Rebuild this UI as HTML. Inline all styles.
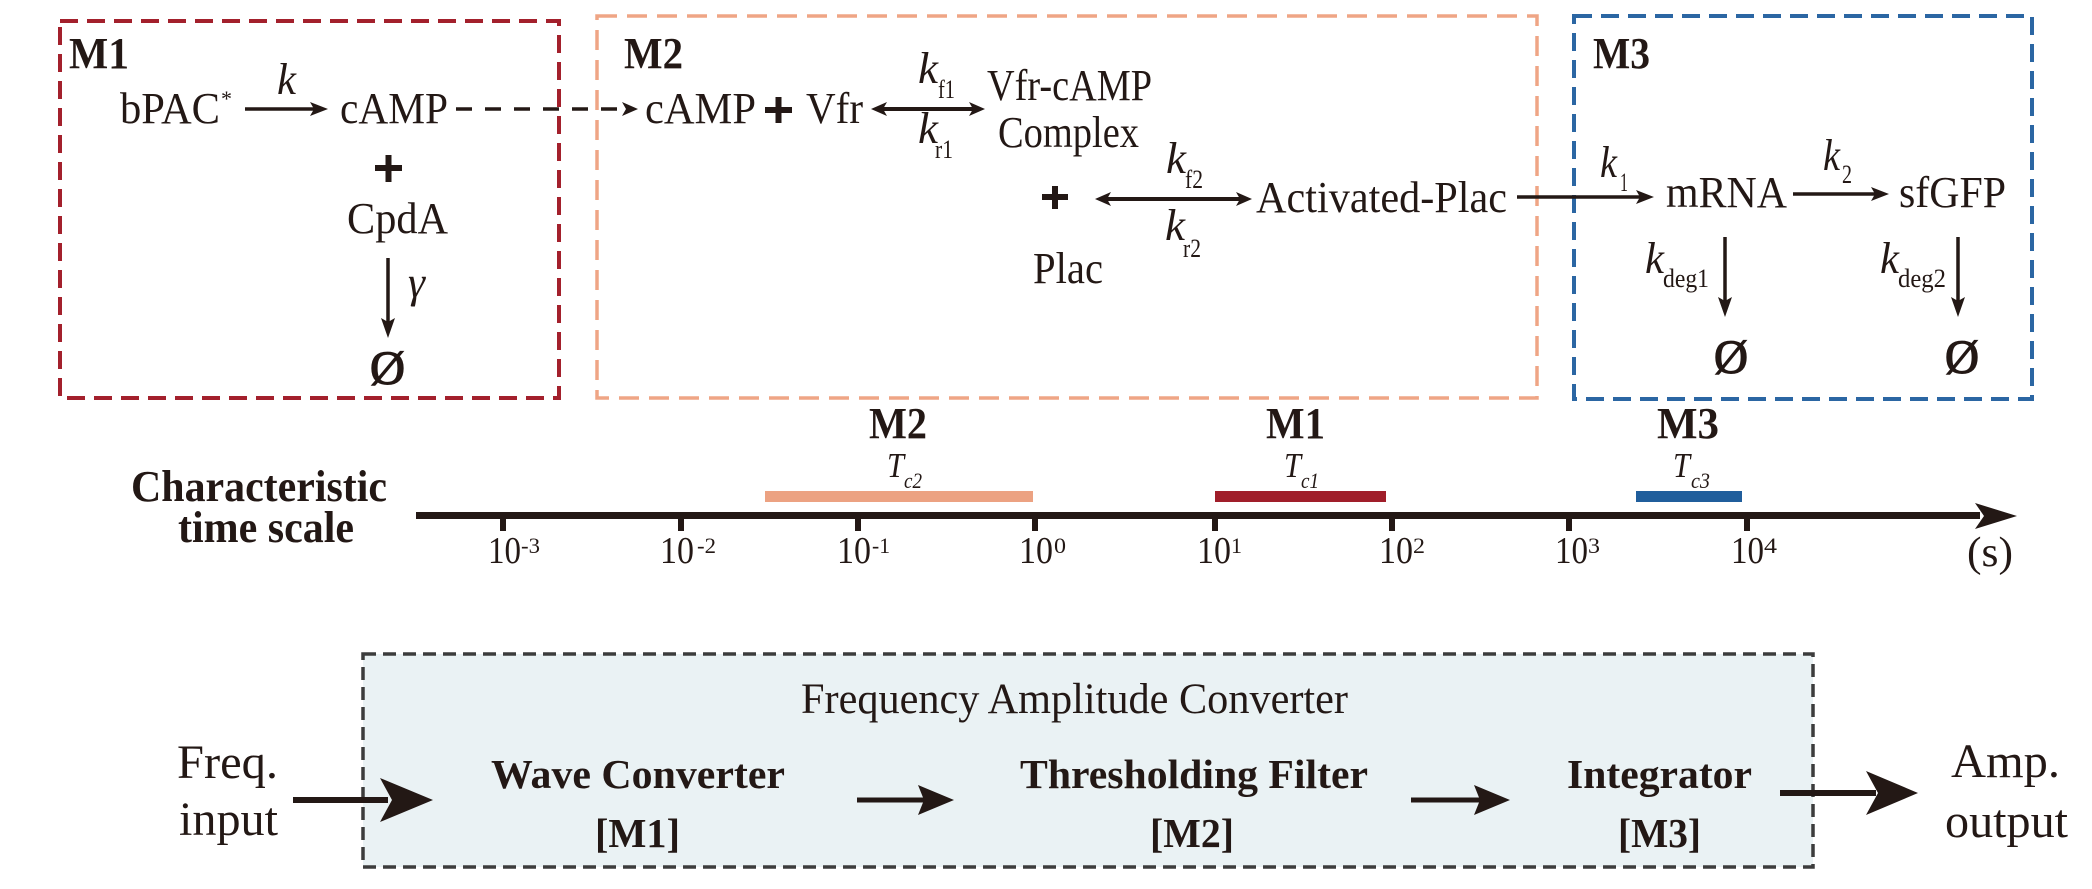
<!DOCTYPE html>
<html>
<head>
<meta charset="utf-8">
<style>
html,body{margin:0;padding:0;background:#fff;}
svg{display:block;}
text{font-family:"Liberation Serif","Times New Roman",serif;fill:#231815;}
.b{font-weight:bold;}
.i{font-style:italic;}
.o{stroke:#231815;stroke-width:1.3;}
</style>
</head>
<body>
<svg width="2092" height="889" viewBox="0 0 2092 889" xmlns="http://www.w3.org/2000/svg">
<rect x="0" y="0" width="2092" height="889" fill="#fff"/>

<!-- Module boxes -->
<rect x="60" y="21" width="499" height="377" fill="none" stroke="#A3202C" stroke-width="4" stroke-dasharray="18 9"/>
<rect x="597" y="16" width="940" height="382" fill="none" stroke="#EFA585" stroke-width="3.5" stroke-dasharray="20 10"/>
<rect x="1574" y="16" width="458" height="383" fill="none" stroke="#2B66A3" stroke-width="4" stroke-dasharray="18 9"/>

<!-- M1 contents -->
<text class="b" x="69" y="68" font-size="44" textLength="60" lengthAdjust="spacingAndGlyphs">M1</text>
<text x="120" y="123" font-size="44" textLength="100" lengthAdjust="spacingAndGlyphs">bPAC</text>
<text x="221" y="106" font-size="22">*</text>
<text class="i" x="277" y="94" font-size="44" textLength="19" lengthAdjust="spacingAndGlyphs">k</text>
<line x1="245" y1="109" x2="318" y2="109" stroke="#231815" stroke-width="3.5"/>
<polygon points="328,109 310,102 314,109 310,116" fill="#231815"/>
<text x="340" y="123" font-size="44" textLength="108" lengthAdjust="spacingAndGlyphs">cAMP</text>
<line x1="456" y1="109" x2="626" y2="109" stroke="#231815" stroke-width="3.5" stroke-dasharray="16 13"/>
<polygon points="638,109 622,102 626,109 622,116" fill="#231815"/>
<rect x="375" y="165" width="27" height="6" fill="#231815"/>
<rect x="385.5" y="155" width="6" height="27" fill="#231815"/>
<text x="347" y="233" font-size="44" textLength="101" lengthAdjust="spacingAndGlyphs">CpdA</text>
<line x1="388" y1="258" x2="388" y2="330" stroke="#231815" stroke-width="3.5"/>
<polygon points="388,338 381,318 388,322 395,318" fill="#231815"/>
<text class="i" x="408" y="297" font-size="44" textLength="17" lengthAdjust="spacingAndGlyphs">γ</text>
<text class="o" x="370" y="384" font-size="48" textLength="35" lengthAdjust="spacingAndGlyphs">Ø</text>

<!-- M2 contents -->
<text class="b" x="624" y="68" font-size="44" textLength="59" lengthAdjust="spacingAndGlyphs">M2</text>
<text x="645" y="123" font-size="44" textLength="111" lengthAdjust="spacingAndGlyphs">cAMP</text>
<rect x="765" y="107" width="27" height="6" fill="#231815"/>
<rect x="775.5" y="97" width="6" height="26" fill="#231815"/>
<text x="806" y="123" font-size="44" textLength="57" lengthAdjust="spacingAndGlyphs">Vfr</text>
<line x1="880" y1="109" x2="976" y2="109" stroke="#231815" stroke-width="4"/>
<polygon points="871,109 887,102 883,109 887,116" fill="#231815"/>
<polygon points="985,109 969,102 973,109 969,116" fill="#231815"/>
<text class="i" x="918" y="83" font-size="44" textLength="20" lengthAdjust="spacingAndGlyphs">k</text>
<text x="938" y="98" font-size="26" textLength="17" lengthAdjust="spacingAndGlyphs">f1</text>
<text class="i" x="918" y="143" font-size="44" textLength="20" lengthAdjust="spacingAndGlyphs">k</text>
<text x="935" y="158" font-size="26" textLength="18" lengthAdjust="spacingAndGlyphs">r1</text>
<text x="987" y="100" font-size="44" textLength="165" lengthAdjust="spacingAndGlyphs">Vfr-cAMP</text>
<text x="998" y="147" font-size="44" textLength="141" lengthAdjust="spacingAndGlyphs">Complex</text>
<rect x="1042" y="194" width="26" height="6" fill="#231815"/>
<rect x="1052" y="186" width="6" height="23" fill="#231815"/>
<line x1="1100" y1="199" x2="1246" y2="199" stroke="#231815" stroke-width="4"/>
<polygon points="1095,199 1111,192 1107,199 1111,206" fill="#231815"/>
<polygon points="1252,199 1236,192 1240,199 1236,206" fill="#231815"/>
<text class="i" x="1166" y="173" font-size="44" textLength="20" lengthAdjust="spacingAndGlyphs">k</text>
<text x="1185" y="188" font-size="26" textLength="18" lengthAdjust="spacingAndGlyphs">f2</text>
<text class="i" x="1165" y="240" font-size="44" textLength="20" lengthAdjust="spacingAndGlyphs">k</text>
<text x="1183" y="257" font-size="26" textLength="18" lengthAdjust="spacingAndGlyphs">r2</text>
<text x="1033" y="283" font-size="44" textLength="70" lengthAdjust="spacingAndGlyphs">Plac</text>
<text x="1256" y="212" font-size="44" textLength="251" lengthAdjust="spacingAndGlyphs">Activated-Plac</text>
<line x1="1517" y1="197" x2="1645" y2="197" stroke="#231815" stroke-width="3.5"/>
<polygon points="1654,197 1636,190 1640,197 1636,204" fill="#231815"/>

<!-- M3 contents -->
<text class="b" x="1593" y="68" font-size="44" textLength="57" lengthAdjust="spacingAndGlyphs">M3</text>
<text class="i" x="1600" y="177" font-size="44" textLength="17" lengthAdjust="spacingAndGlyphs">k</text>
<text x="1620" y="191" font-size="26" textLength="8" lengthAdjust="spacingAndGlyphs">1</text>
<text x="1666" y="207" font-size="44" textLength="121" lengthAdjust="spacingAndGlyphs">mRNA</text>
<line x1="1793" y1="194" x2="1880" y2="194" stroke="#231815" stroke-width="3.5"/>
<polygon points="1889,194 1871,187 1875,194 1871,201" fill="#231815"/>
<text class="i" x="1823" y="170" font-size="44" textLength="17" lengthAdjust="spacingAndGlyphs">k</text>
<text x="1842" y="183" font-size="26" textLength="10" lengthAdjust="spacingAndGlyphs">2</text>
<text x="1899" y="207" font-size="44" textLength="107" lengthAdjust="spacingAndGlyphs">sfGFP</text>
<line x1="1725" y1="237" x2="1725" y2="309" stroke="#231815" stroke-width="3.5"/>
<polygon points="1725,317 1718,297 1725,301 1732,297" fill="#231815"/>
<line x1="1958" y1="237" x2="1958" y2="309" stroke="#231815" stroke-width="3.5"/>
<polygon points="1958,317 1951,297 1958,301 1965,297" fill="#231815"/>
<text class="i" x="1645" y="273" font-size="44" textLength="19" lengthAdjust="spacingAndGlyphs">k</text>
<text x="1663" y="287" font-size="26" textLength="46" lengthAdjust="spacingAndGlyphs">deg1</text>
<text class="i" x="1880" y="273" font-size="44" textLength="19" lengthAdjust="spacingAndGlyphs">k</text>
<text x="1898" y="287" font-size="26" textLength="48" lengthAdjust="spacingAndGlyphs">deg2</text>
<text class="o" x="1714" y="373" font-size="48" textLength="34" lengthAdjust="spacingAndGlyphs">Ø</text>
<text class="o" x="1945" y="373" font-size="48" textLength="34" lengthAdjust="spacingAndGlyphs">Ø</text>

<!-- Characteristic time scale -->
<text class="b" x="131" y="501" font-size="44" textLength="256" lengthAdjust="spacingAndGlyphs">Characteristic</text>
<text class="b" x="178" y="542" font-size="44" textLength="176" lengthAdjust="spacingAndGlyphs">time scale</text>

<text class="b" x="869" y="438" font-size="44" textLength="58" lengthAdjust="spacingAndGlyphs">M2</text>
<text class="i" x="887" y="477" font-size="35" textLength="17" lengthAdjust="spacingAndGlyphs">T</text>
<text class="i" x="904" y="488" font-size="22" textLength="18" lengthAdjust="spacingAndGlyphs">c2</text>
<rect x="765" y="491" width="268" height="11" fill="#ECA282"/>

<text class="b" x="1266" y="438" font-size="44" textLength="59" lengthAdjust="spacingAndGlyphs">M1</text>
<text class="i" x="1284" y="477" font-size="35" textLength="17" lengthAdjust="spacingAndGlyphs">T</text>
<text class="i" x="1301" y="488" font-size="22" textLength="18" lengthAdjust="spacingAndGlyphs">c1</text>
<rect x="1215" y="491" width="171" height="11" fill="#A01E2A"/>

<text class="b" x="1657" y="438" font-size="44" textLength="62" lengthAdjust="spacingAndGlyphs">M3</text>
<text class="i" x="1673" y="477" font-size="35" textLength="17" lengthAdjust="spacingAndGlyphs">T</text>
<text class="i" x="1691" y="488" font-size="22" textLength="19" lengthAdjust="spacingAndGlyphs">c3</text>
<rect x="1636" y="491" width="106" height="11" fill="#205E9C"/>

<rect x="416" y="512" width="1564" height="7" fill="#231815"/>
<polygon points="2017,516 1975,503 1984,516 1975,529" fill="#231815"/>
<rect x="500" y="518" width="6" height="13" fill="#231815"/>
<rect x="678" y="518" width="6" height="13" fill="#231815"/>
<rect x="855" y="518" width="6" height="13" fill="#231815"/>
<rect x="1032" y="518" width="6" height="13" fill="#231815"/>
<rect x="1212" y="518" width="6" height="13" fill="#231815"/>
<rect x="1389" y="518" width="6" height="13" fill="#231815"/>
<rect x="1566" y="518" width="6" height="13" fill="#231815"/>
<rect x="1744" y="518" width="6" height="13" fill="#231815"/>

<text x="488" y="563" font-size="38" textLength="33" lengthAdjust="spacingAndGlyphs">10</text>
<text x="521" y="553" font-size="22" textLength="19" lengthAdjust="spacingAndGlyphs">-3</text>
<text x="660" y="563" font-size="38" textLength="34" lengthAdjust="spacingAndGlyphs">10</text>
<text x="697" y="553" font-size="22" textLength="19" lengthAdjust="spacingAndGlyphs">-2</text>
<text x="837" y="563" font-size="38" textLength="34" lengthAdjust="spacingAndGlyphs">10</text>
<text x="872" y="553" font-size="22" textLength="18" lengthAdjust="spacingAndGlyphs">-1</text>
<text x="1019" y="563" font-size="38" textLength="34" lengthAdjust="spacingAndGlyphs">10</text>
<text x="1054" y="553" font-size="22" textLength="12" lengthAdjust="spacingAndGlyphs">0</text>
<text x="1197" y="563" font-size="38" textLength="34" lengthAdjust="spacingAndGlyphs">10</text>
<text x="1231" y="553" font-size="22" textLength="11" lengthAdjust="spacingAndGlyphs">1</text>
<text x="1379" y="563" font-size="38" textLength="34" lengthAdjust="spacingAndGlyphs">10</text>
<text x="1413" y="553" font-size="22" textLength="12" lengthAdjust="spacingAndGlyphs">2</text>
<text x="1555" y="563" font-size="38" textLength="33" lengthAdjust="spacingAndGlyphs">10</text>
<text x="1588" y="553" font-size="22" textLength="12" lengthAdjust="spacingAndGlyphs">3</text>
<text x="1731" y="563" font-size="38" textLength="33" lengthAdjust="spacingAndGlyphs">10</text>
<text x="1764" y="553" font-size="22" textLength="13" lengthAdjust="spacingAndGlyphs">4</text>
<text x="1967" y="566" font-size="42" textLength="46" lengthAdjust="spacingAndGlyphs">(s)</text>

<!-- Bottom: Frequency Amplitude Converter -->
<rect x="363" y="654" width="1450" height="213" fill="#EAF2F4" stroke="#3C3C3C" stroke-width="3.5" stroke-dasharray="13 7"/>
<text x="801" y="713" font-size="43" textLength="547" lengthAdjust="spacingAndGlyphs">Frequency Amplitude Converter</text>

<text x="177" y="778" font-size="48" textLength="101" lengthAdjust="spacingAndGlyphs">Freq.</text>
<text x="179" y="835" font-size="48" textLength="99" lengthAdjust="spacingAndGlyphs">input</text>
<line x1="293" y1="800" x2="388" y2="800" stroke="#231815" stroke-width="6"/>
<polygon points="433,800 380,778 392,800 380,822" fill="#231815"/>

<text class="b" x="491" y="788" font-size="41" textLength="294" lengthAdjust="spacingAndGlyphs">Wave Converter</text>
<text class="b" x="595" y="847" font-size="41" textLength="85" lengthAdjust="spacingAndGlyphs">[M1]</text>

<line x1="857" y1="800" x2="925" y2="800" stroke="#231815" stroke-width="5"/>
<polygon points="954,800 918,785 924,800 918,815" fill="#231815"/>

<text class="b" x="1020" y="788" font-size="41" textLength="348" lengthAdjust="spacingAndGlyphs">Thresholding Filter</text>
<text class="b" x="1150" y="847" font-size="41" textLength="84" lengthAdjust="spacingAndGlyphs">[M2]</text>

<line x1="1411" y1="800" x2="1480" y2="800" stroke="#231815" stroke-width="5"/>
<polygon points="1510,800 1474,785 1480,800 1474,815" fill="#231815"/>

<text class="b" x="1567" y="788" font-size="41" textLength="185" lengthAdjust="spacingAndGlyphs">Integrator</text>
<text class="b" x="1618" y="847" font-size="41" textLength="83" lengthAdjust="spacingAndGlyphs">[M3]</text>

<line x1="1780" y1="793" x2="1876" y2="793" stroke="#231815" stroke-width="6"/>
<polygon points="1918,793 1866,771 1878,793 1866,815" fill="#231815"/>
<text x="1951" y="777" font-size="48" textLength="109" lengthAdjust="spacingAndGlyphs">Amp.</text>
<text x="1945" y="837" font-size="48" textLength="123" lengthAdjust="spacingAndGlyphs">output</text>
</svg>
</body>
</html>
